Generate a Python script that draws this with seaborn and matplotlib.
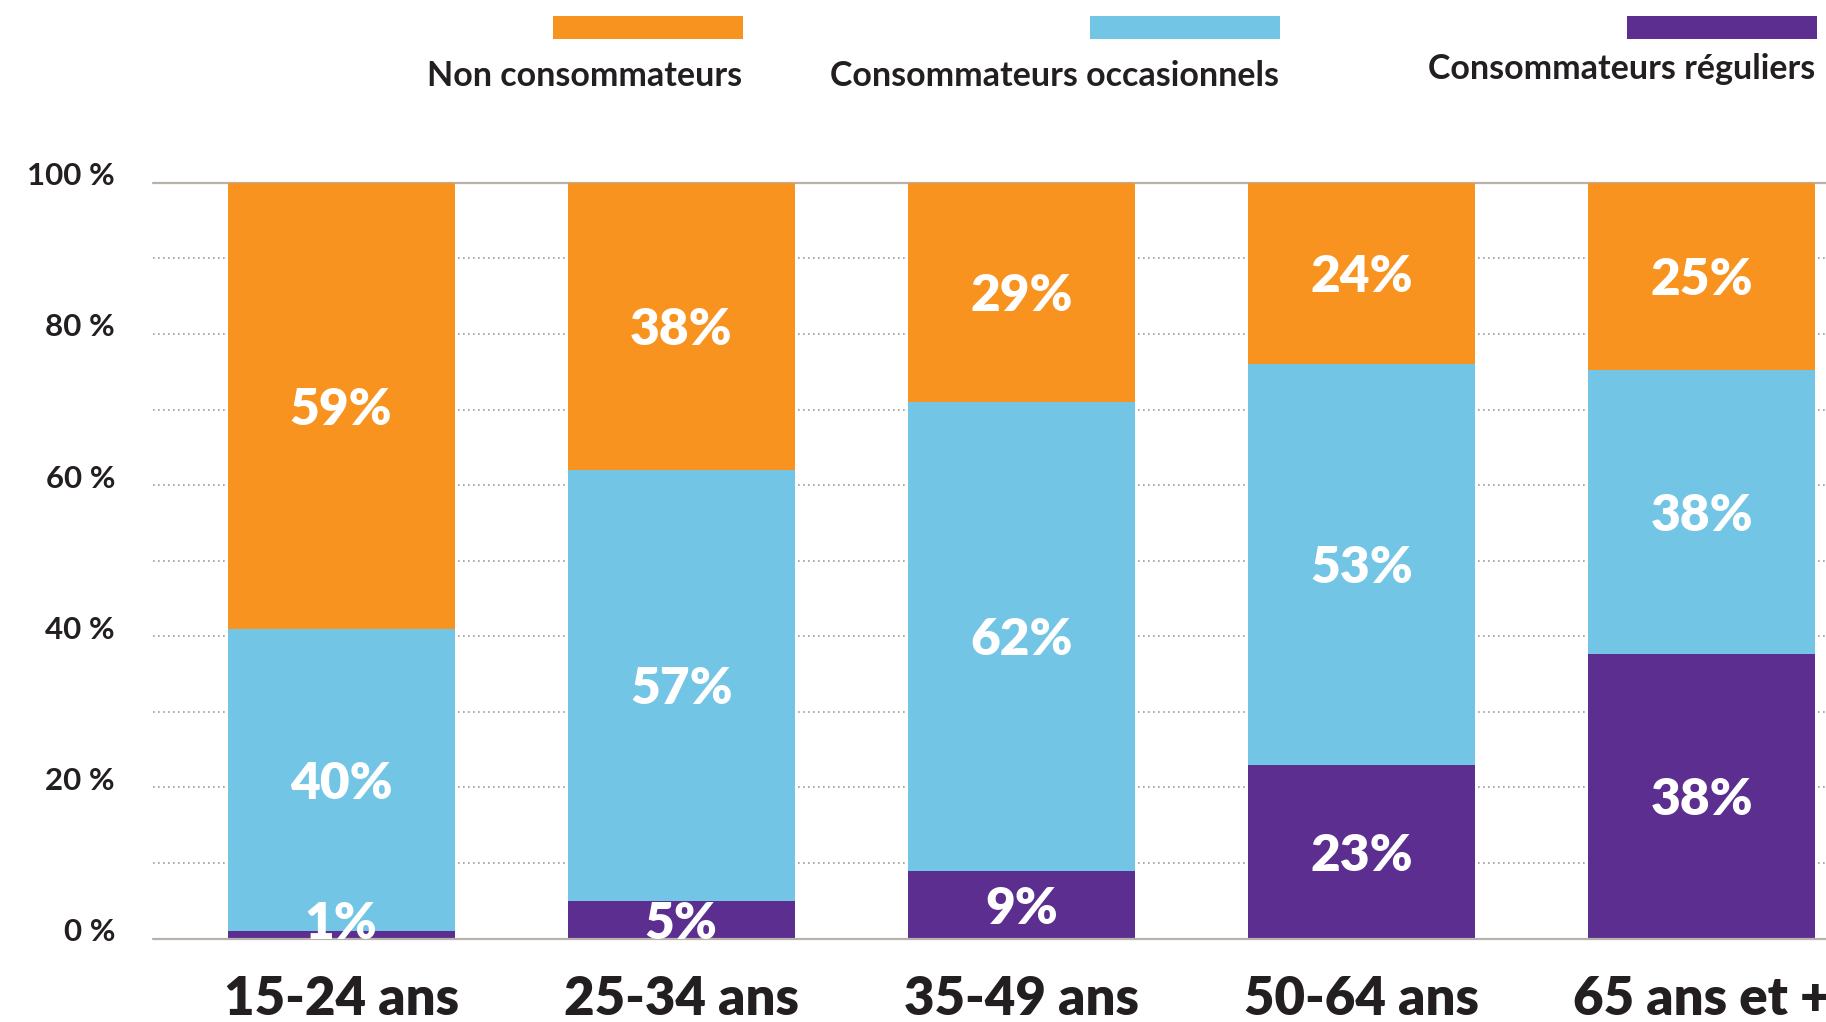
import pandas as pd
import matplotlib.pyplot as plt
import seaborn as sns
from matplotlib.patches import Rectangle
from matplotlib.transforms import ScaledTranslation

# Données (en %)
age_groups = ["15-24 ans", "25-34 ans", "35-49 ans", "50-64 ans", "65 ans et +"]
reguliers = [1, 5, 9, 23, 38]
occasionnels = [40, 57, 62, 53, 38]
non_consommateurs = [59, 38, 29, 24, 25]

series_names = ["Non consommateurs", "Consommateurs occasionnels", "Consommateurs réguliers"]
series_colors = ["#F7931E", "#72C5E5", "#5B2E8F"]
y_ticks = [0, 20, 40, 60, 80, 100]

TEXT = "#231F20"

sns.set_theme(style="white")
plt.rcParams["font.family"] = ["Lato", "DejaVu Sans"]

# Cumul normalisé à 100 % (65 ans et + totalise 101 %)
df = pd.DataFrame({
    "age": age_groups,
    "reg": reguliers,
    "occ": occasionnels,
    "non": non_consommateurs,
})
total = df["reg"] + df["occ"] + df["non"]
df["c1"] = df["reg"] * 100 / total
df["c2"] = (df["reg"] + df["occ"]) * 100 / total
df["c3"] = (df["reg"] + df["occ"] + df["non"]) * 100 / total

W, H = 1826, 1022
fig = plt.figure(figsize=(W / 100, H / 100), dpi=100)
ax = fig.add_axes([152.6 / W, 1 - 938.6 / H, 1 - 152.6 / W, (938.6 - 182.8) / H])

# Barres empilées : on dessine les cumuls du plus grand au plus petit
for col, color in zip(["c3", "c2", "c1"], series_colors):
    sns.barplot(data=df, x="age", y=col, color=color, saturation=1,
                width=0.667, linewidth=0, ax=ax, zorder=2)

# Grille pointillée + lignes pleines à 0 et 100
for v in range(10, 100, 10):
    ax.axhline(v, color="#A09C99", lw=1.2, ls=(0, (1, 2)), zorder=1)
ax.axhline(100, color="#B8B2AC", lw=1.6, zorder=1, clip_on=False)
ax.axhline(0, color="#B8B2AC", lw=1.6, zorder=3, clip_on=False)

# Étiquettes de valeurs
segments = [
    (df["c2"], df["c3"], non_consommateurs),
    (df["c1"], df["c2"], occasionnels),
    ([0] * 5, df["c1"], reguliers),
]
for lo, hi, vals in segments:
    for i, (a, b, v) in enumerate(zip(lo, hi, vals)):
        y = max((a + b) / 2, 2.5)
        ax.text(i, y, f"{v}%", ha="center", va="center_baseline",
                color="white", fontsize=37, fontweight="heavy", zorder=4)

ax.set_xlim(-0.554, 4.365)
ax.set_ylim(0, 100)
ax.set_xlabel("")
ax.set_ylabel("")
sns.despine(ax=ax, left=True, bottom=True)

ax.set_yticks(y_ticks)
ax.set_yticklabels([f"{v} %" for v in y_ticks], fontsize=22.5,
                   fontweight="bold", color=TEXT)
ax.tick_params(axis="y", length=0, pad=27)
for lbl in ax.get_yticklabels():
    lbl.set_transform(lbl.get_transform() + ScaledTranslation(0, 0.09, fig.dpi_scale_trans))

ax.set_xticks(range(len(age_groups)))
ax.set_xticklabels(age_groups, fontsize=38, fontweight="heavy", color=TEXT)
ax.tick_params(axis="x", length=0, pad=26)

# Légende en haut
legend_layout = [(553, 742, 73), (1090, 1279, 73), (1627, 1815, 66)]
for name, color, (rx, tx, ty) in zip(series_names, series_colors, legend_layout):
    fig.patches.append(Rectangle((rx / W, 1 - 39 / H), 190 / W, 23 / H,
                                 transform=fig.transFigure, color=color, lw=0))
    fig.text(tx / W, 1 - ty / H, name, ha="right", va="center_baseline",
             fontsize=24.5, fontweight="bold", color=TEXT)

fig.savefig("out.png", dpi=100)
